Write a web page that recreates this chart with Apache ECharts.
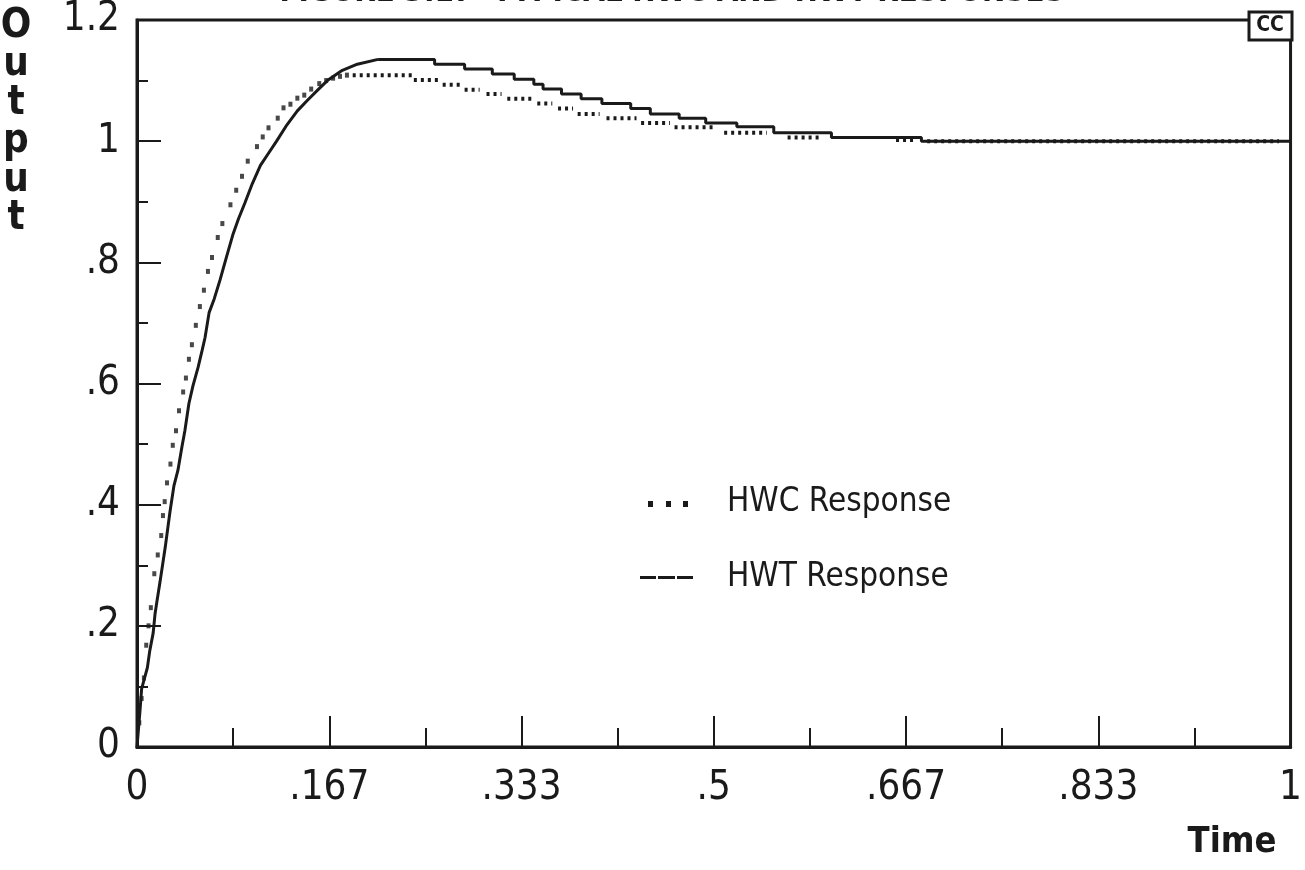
<!DOCTYPE html>
<html>
<head>
<meta charset="utf-8">
<script src="https://cdn.jsdelivr.net/npm/echarts@6/dist/echarts.min.js"></script>
<style>
html,body{margin:0;padding:0;background:#fff;}
#chart{width:1305px;height:870px;}
</style>
</head>
<body>
<div id="chart"></div>
<script>
// ---- Data ----
const titleText = 'FIGURE 3.17  TYPICAL HWC AND HWT RESPONSES';
const xTickLabels = ['0', '.167', '.333', '.5', '.667', '.833', '1'];
const yTickLabels = ['0', '.2', '.4', '.6', '.8', '1', '1.2'];

// HWT Response (solid) - rise
const hwtRiseTime = [0, 0.0026, 0.004, 0.009, 0.011, 0.014, 0.0156, 0.017, 0.020, 0.0245, 0.0285, 0.032, 0.0355, 0.039, 0.0415, 0.045, 0.0485, 0.053, 0.0565, 0.059, 0.0625, 0.067, 0.072, 0.0776, 0.083, 0.088, 0.0935, 0.100, 0.107, 0.114, 0.121, 0.130, 0.139, 0.148, 0.157, 0.165, 0.178, 0.191, 0.209];
const hwtRiseValue = [0, 0.06, 0.096, 0.131, 0.158, 0.188, 0.219, 0.237, 0.273, 0.33, 0.387, 0.431, 0.457, 0.496, 0.522, 0.567, 0.596, 0.627, 0.655, 0.676, 0.717, 0.74, 0.771, 0.809, 0.845, 0.872, 0.898, 0.93, 0.96, 0.98, 1.0, 1.027, 1.05, 1.068, 1.085, 1.10, 1.117, 1.127, 1.135];
// HWT Response (solid) - decay staircase: time at which each level begins
const hwtStepTime = [0.209, 0.258, 0.284, 0.308, 0.327, 0.344, 0.352, 0.368, 0.385, 0.403, 0.428, 0.445, 0.470, 0.493, 0.520, 0.552, 0.602, 0.680, 1.0];
const hwtStepValue = [1.135, 1.127, 1.119, 1.111, 1.102, 1.094, 1.086, 1.078, 1.07, 1.062, 1.054, 1.045, 1.038, 1.030, 1.024, 1.014, 1.006, 1.0, 1.0];

// HWC Response (dotted) - individual dots during the rise
const hwcRiseTime = [0.002, 0.004, 0.006, 0.008, 0.010, 0.012, 0.015, 0.018, 0.021, 0.0225, 0.024, 0.026, 0.029, 0.031, 0.0338, 0.0364, 0.040, 0.0424, 0.045, 0.0476, 0.051, 0.0545, 0.058, 0.0615, 0.065, 0.070, 0.074, 0.081, 0.086, 0.091, 0.096, 0.104, 0.109, 0.114, 0.122, 0.127, 0.133, 0.139, 0.145, 0.151, 0.158, 0.164, 0.170, 0.176, 0.182];
const hwcRiseValue = [0.04, 0.08, 0.114, 0.168, 0.2, 0.23, 0.286, 0.317, 0.349, 0.382, 0.405, 0.436, 0.467, 0.498, 0.522, 0.555, 0.586, 0.609, 0.640, 0.664, 0.696, 0.727, 0.754, 0.785, 0.808, 0.841, 0.864, 0.895, 0.919, 0.942, 0.967, 0.991, 1.007, 1.022, 1.038, 1.055, 1.061, 1.071, 1.076, 1.086, 1.095, 1.10, 1.104, 1.107, 1.109];
// HWC Response - dotted plateau levels
const hwcLevelStart = [0.187, 0.240, 0.265, 0.284, 0.303, 0.321, 0.347, 0.365, 0.382, 0.407, 0.437, 0.466, 0.509, 0.564, 0.658, 0.685];
const hwcLevelEnd   = [0.239, 0.262, 0.280, 0.297, 0.316, 0.343, 0.360, 0.378, 0.401, 0.433, 0.462, 0.502, 0.546, 0.594, 0.674, 0.99];
const hwcLevelValue = [1.109, 1.101, 1.093, 1.085, 1.078, 1.070, 1.062, 1.054, 1.045, 1.038, 1.030, 1.023, 1.014, 1.006, 1.002, 1.0];

// ---- Build ----
const FONT = "'Liberation Sans Narrow', 'DejaVu Sans Condensed', 'Arial Narrow', sans-serif";
const INK = '#1a1a1a';

const hwtRiseData = hwtRiseTime.map((t, i) => [t, hwtRiseValue[i]]);
const hwtStepData = hwtStepTime.map((t, i) => [t, hwtStepValue[i]]);
const hwcRiseData = hwcRiseTime.map((t, i) => [t, hwcRiseValue[i]]);
const hwcLevelData = [];
hwcLevelStart.forEach((s, i) => {
  hwcLevelData.push([s, hwcLevelValue[i]]);
  hwcLevelData.push([hwcLevelEnd[i], hwcLevelValue[i]]);
  hwcLevelData.push([hwcLevelEnd[i], null]);
});

const chart = echarts.init(document.getElementById('chart'), null, {renderer: 'canvas'});
chart.setOption({
  backgroundColor: '#fff',
  animation: false,
  grid: {left: 137, right: 13, top: 12, bottom: 123, show: true, borderColor: INK, borderWidth: 3, containLabel: false},
  xAxis: {
    type: 'value', min: 0, max: 1, interval: 1 / 6,
    axisLine: {show: true, lineStyle: {color: INK, width: 3}},
    axisTick: {show: true, inside: true, length: 31, lineStyle: {color: INK, width: 2}},
    minorTick: {show: true, splitNumber: 2, length: 19, lineStyle: {color: INK, width: 2}},
    splitLine: {show: false},
    axisLabel: {
      margin: 22, color: INK, fontFamily: FONT, fontSize: 40, hideOverlap: false,
      formatter: v => xTickLabels[Math.round(v * 6)]
    }
  },
  yAxis: {
    type: 'value', min: 0, max: 1.2, interval: 0.2,
    axisLine: {show: true, lineStyle: {color: INK, width: 3}},
    axisTick: {show: true, inside: true, length: 24, lineStyle: {color: INK, width: 2}},
    minorTick: {show: true, splitNumber: 2, length: 11, lineStyle: {color: INK, width: 2}},
    splitLine: {show: false},
    axisLabel: {
      margin: 17, color: INK, fontFamily: FONT, fontSize: 40,
      formatter: v => yTickLabels[Math.round(v * 5)]
    }
  },
  series: [
    {
      name: 'HWT Response', type: 'line', data: hwtRiseData,
      showSymbol: false, lineStyle: {color: INK, width: 3}, z: 3
    },
    {
      name: 'HWT Response', type: 'line', step: 'end', data: hwtStepData,
      showSymbol: false, lineStyle: {color: INK, width: 3}, z: 3
    },
    {
      name: 'HWC Response', type: 'scatter', data: hwcRiseData,
      symbol: 'rect', symbolSize: [4, 5], itemStyle: {color: INK}, z: 4
    },
    {
      name: 'HWC Response', type: 'line', data: hwcLevelData, connectNulls: false,
      showSymbol: false, lineStyle: {color: INK, width: 4, type: [3, 4], cap: 'butt'}, z: 2
    }
  ],
  graphic: [
    {type: 'text', x: 672, y: 8, style: {text: titleText, fill: INK, font: "bold 31px " + FONT, align: 'center', verticalAlign: 'bottom'}},
    {type: 'text', x: 16, y: 7, style: {text: 'O\nu\nt\np\nu\nt', fill: INK, font: "bold 40px " + FONT, align: 'center', lineHeight: 38.5}},
    {type: 'text', x: 1232, y: 843, style: {text: 'Time', fill: INK, font: "bold 36px " + FONT, align: 'center', verticalAlign: 'middle'}},
    {type: 'rect', shape: {x: 1249, y: 12, width: 43, height: 28}, style: {fill: '#fff', stroke: INK, lineWidth: 3}, z: 10},
    {type: 'text', x: 1270, y: 26, style: {text: 'CC', fill: INK, font: "bold 21px " + FONT, align: 'center', verticalAlign: 'middle'}, z: 11},
    // legend: HWC dots
    {type: 'rect', shape: {x: 648, y: 501, width: 5, height: 6}, style: {fill: INK}},
    {type: 'rect', shape: {x: 666, y: 501, width: 5, height: 6}, style: {fill: INK}},
    {type: 'rect', shape: {x: 683, y: 501, width: 5, height: 6}, style: {fill: INK}},
    {type: 'text', x: 727, y: 502, style: {text: 'HWC Response', fill: INK, font: "33px " + FONT, verticalAlign: 'middle'}},
    // legend: HWT dashes
    {type: 'rect', shape: {x: 640, y: 576, width: 16, height: 3}, style: {fill: INK}},
    {type: 'rect', shape: {x: 658, y: 576, width: 17, height: 3}, style: {fill: INK}},
    {type: 'rect', shape: {x: 677, y: 576, width: 16, height: 3}, style: {fill: INK}},
    {type: 'text', x: 727, y: 577, style: {text: 'HWT Response', fill: INK, font: "33px " + FONT, verticalAlign: 'middle'}}
  ]
});
</script>
</body>
</html>
